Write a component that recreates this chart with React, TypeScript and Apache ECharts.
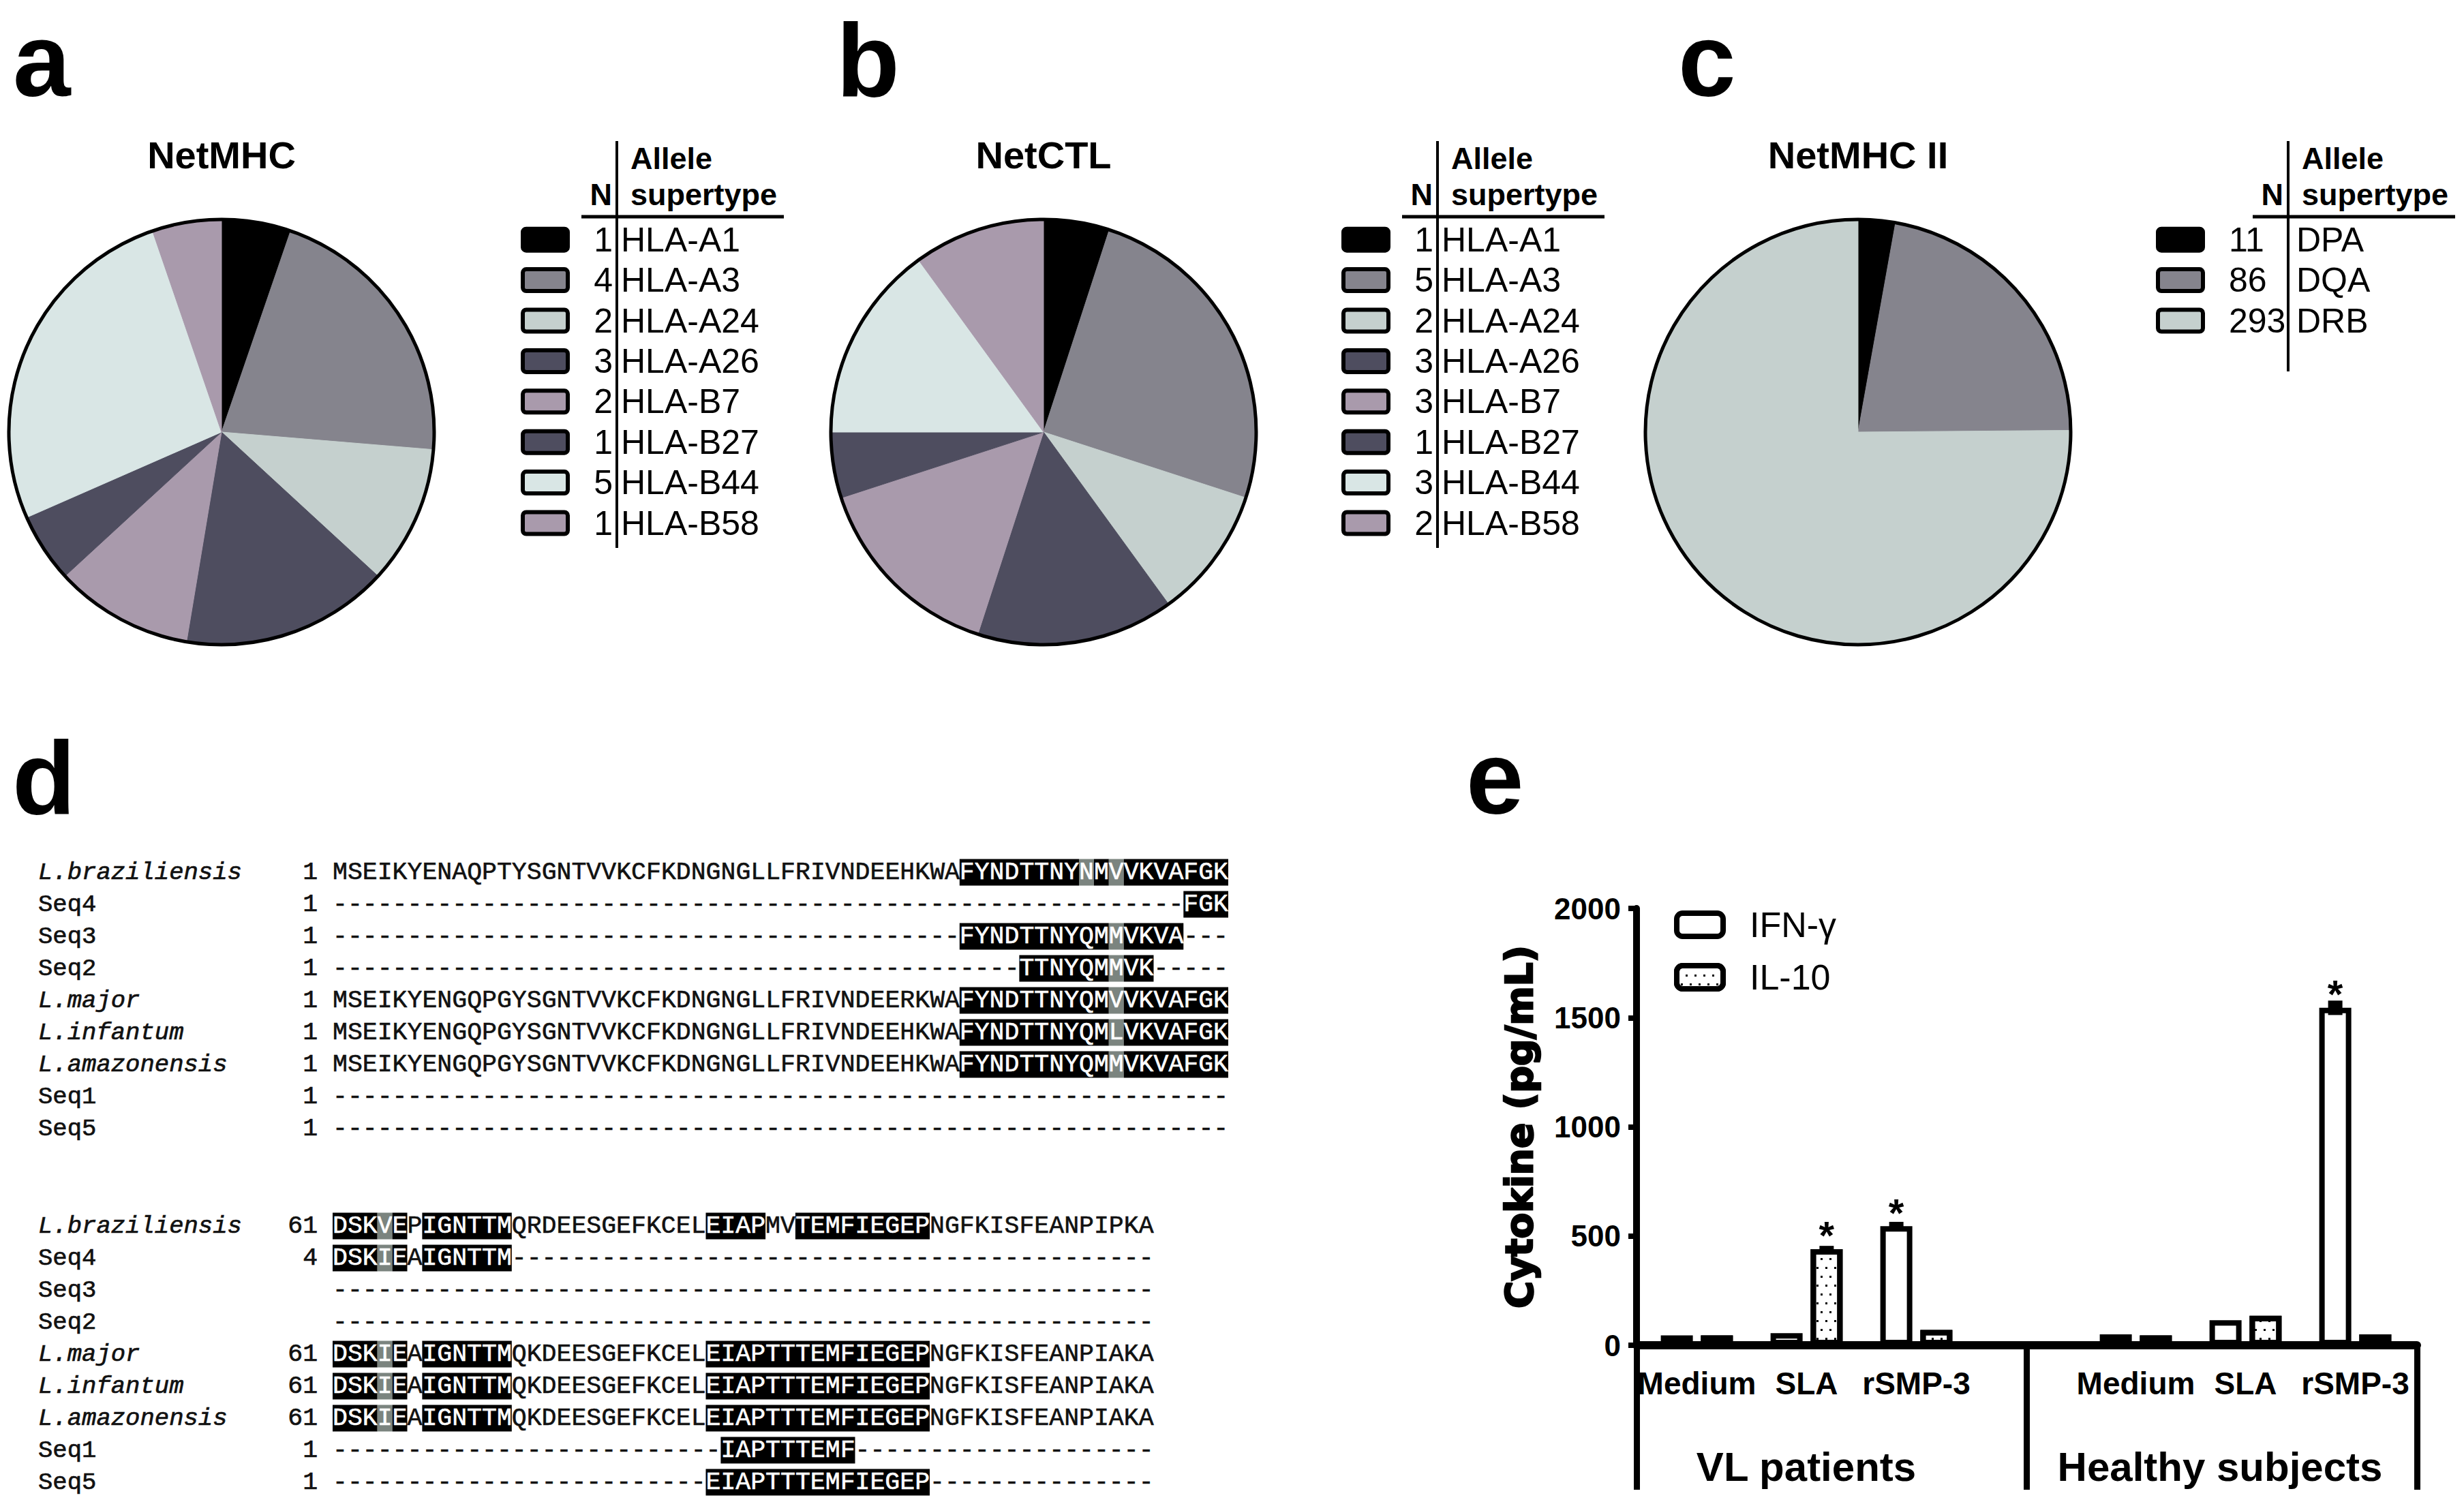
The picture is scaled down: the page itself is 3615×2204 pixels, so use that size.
import React, { useEffect, useRef } from "react";
import * as echarts from "echarts";

const W = 3615;
const H = 2204;
const SANS = "Liberation Sans, Arial, Helvetica, sans-serif";
const MONO = "Liberation Mono, Courier New, monospace";
const INK = "#000";

// ---------- Panels a, b, c : epitope predictions ----------
const SUPERTYPES_I = ["HLA-A1", "HLA-A3", "HLA-A24", "HLA-A26", "HLA-B7", "HLA-B27", "HLA-B44", "HLA-B58"];
const NETMHC_N = [1, 4, 2, 3, 2, 1, 5, 1];
const NETCTL_N = [1, 5, 2, 3, 3, 1, 3, 2];
const SUPERTYPES_II = ["DPA", "DQA", "DRB"];
const NETMHCII_N = [11, 86, 293];
const COLORS_I = ["#000000", "#85848d", "#c5d0ce", "#4e4d5f", "#a99aac", "#4e4d5f", "#d9e6e5", "#a99aac"];
const COLORS_II = ["#000000", "#85848d", "#c5d0ce"];
const PIE_TITLES = ["NetMHC", "NetCTL", "NetMHC II"];
const PANEL_LETTERS = ["a", "b", "c", "d", "e"];

// ---------- Panel d : alignment ----------
const SEQ_NAMES = ["L.braziliensis", "Seq4", "Seq3", "Seq2", "L.major", "L.infantum", "L.amazonensis", "Seq1", "Seq5"];
const BLOCK1_START = ["1", "1", "1", "1", "1", "1", "1", "1", "1"];
const BLOCK1_SEQ = [
  "MSEIKYENAQPTYSGNTVVKCFKDNGNGLLFRIVNDEEHKWAFYNDTTNYNMVVKVAFGK",
  "-".repeat(57) + "FGK",
  "-".repeat(42) + "FYNDTTNYQMMVKVA" + "---",
  "-".repeat(46) + "TTNYQMMVK" + "-----",
  "MSEIKYENGQPGYSGNTVVKCFKDNGNGLLFRIVNDEERKWAFYNDTTNYQMVVKVAFGK",
  "MSEIKYENGQPGYSGNTVVKCFKDNGNGLLFRIVNDEEHKWAFYNDTTNYQMLVKVAFGK",
  "MSEIKYENGQPGYSGNTVVKCFKDNGNGLLFRIVNDEEHKWAFYNDTTNYQMMVKVAFGK",
  "-".repeat(60),
  "-".repeat(60),
];
// b = identical (black), g = similar (grey), . = no shading
const BLOCK1_SHADE = [
  ".".repeat(42) + "bbbbbbbbgbgbbbbbbb",
  ".".repeat(57) + "bbb",
  ".".repeat(42) + "bbbbbbbbbbgbbbb" + "...",
  ".".repeat(46) + "bbbbbbgbb" + ".....",
  ".".repeat(42) + "bbbbbbbbbbgbbbbbbb",
  ".".repeat(42) + "bbbbbbbbbbgbbbbbbb",
  ".".repeat(42) + "bbbbbbbbbbgbbbbbbb",
  ".".repeat(60),
  ".".repeat(60),
];
const BLOCK2_START = ["61", "4", "", "", "61", "61", "61", "1", "1"];
const BLOCK2_SEQ = [
  "DSKVEPIGNTTMQRDEESGEFKCELEIAPMVTEMFIEGEPNGFKISFEANPIPKA",
  "DSKIEAIGNTTM" + "-".repeat(43),
  "-".repeat(55),
  "-".repeat(55),
  "DSKIEAIGNTTMQKDEESGEFKCELEIAPTTTEMFIEGEPNGFKISFEANPIAKA",
  "DSKIEAIGNTTMQKDEESGEFKCELEIAPTTTEMFIEGEPNGFKISFEANPIAKA",
  "DSKIEAIGNTTMQKDEESGEFKCELEIAPTTTEMFIEGEPNGFKISFEANPIAKA",
  "-".repeat(26) + "IAPTTTEMF" + "-".repeat(20),
  "-".repeat(25) + "EIAPTTTEMFIEGEP" + "-".repeat(15),
];
const BLOCK2_SHADE = [
  "bbbgb.bbbbbb" + ".".repeat(13) + "bbbb" + ".." + "bbbbbbbbb" + ".".repeat(15),
  "bbbgb.bbbbbb" + ".".repeat(43),
  ".".repeat(55),
  ".".repeat(55),
  "bbbgb.bbbbbb" + ".".repeat(13) + "b".repeat(15) + ".".repeat(15),
  "bbbgb.bbbbbb" + ".".repeat(13) + "b".repeat(15) + ".".repeat(15),
  "bbbgb.bbbbbb" + ".".repeat(13) + "b".repeat(15) + ".".repeat(15),
  ".".repeat(26) + "b".repeat(9) + ".".repeat(20),
  ".".repeat(25) + "b".repeat(15) + ".".repeat(15),
];

// ---------- Panel e : cytokines ----------
const STIMULI = ["Medium", "SLA", "rSMP-3", "", "Medium", "SLA", "rSMP-3"];
const GROUPS = ["VL patients", "Healthy subjects"];
const IFN_G = [45, 55, 545, null, 50, 115, 1545];
const IL_10 = [45, 440, 70, null, 45, 135, 50];
const IFN_G_ERR = [0, 0, 20, null, 0, 0, 33];
const IL_10_ERR = [0, 15, 0, null, 0, 0, 0];
const IFN_G_SIG = [false, false, true, false, false, false, true];
const IL_10_SIG = [false, true, false, false, false, false, false];
const Y_TITLE = "Cytokine (pg/mL)";

// ---------- layout ----------
const PIE_CX = [325, 1531, 2726];
const PIE_CY = 634;
const PIE_R = 312;
const LEG_VX = [905, 2109, 3357];
const ROW0 = 351.7;
const ROW_STEP = 59.4;
const GREY = "#7b847f";
const BAR_W = 47;
const BAR_GAP = 0.25;

function T(x: number, y: number, text: string, o: any = {}) {
  const align = o.align ?? "left";
  const fill = o.fill ?? INK;
  const style: any = {
    text,
    fill,
    fontSize: o.size ?? 50,
    fontWeight: o.weight ?? "normal",
    fontStyle: o.style ?? "normal",
    fontFamily: o.family ?? SANS,
    textAlign: align,
    align,
    textVerticalAlign: "middle",
    verticalAlign: "middle",
  };
  if (o.lineHeight) style.lineHeight = o.lineHeight;
  if (o.stroke) {
    style.stroke = fill;
    style.lineWidth = o.stroke;
    style.textStroke = fill;
    style.textStrokeWidth = o.stroke;
  }
  return { type: "text", x, y, silent: true, style };
}

function pieLegend(vx: number, names: string[], counts: number[], colors: string[], cfg: any) {
  const els: any[] = [];
  els.push({ type: "line", silent: true, shape: { x1: vx, y1: 207, x2: vx, y2: cfg.bottom }, style: { stroke: INK, lineWidth: 4 } });
  els.push({ type: "line", silent: true, shape: { x1: vx - 52, y1: 318, x2: vx + 245, y2: 318 }, style: { stroke: INK, lineWidth: 5 } });
  els.push(T(vx + 20, 232, "Allele", { size: 45, weight: "bold" }));
  els.push(T(vx + 20, 285, "supertype", { size: 45, weight: "bold" }));
  els.push(T(vx - 7, 285, "N", { size: 45, weight: "bold", align: "right" }));
  names.forEach((nm, i) => {
    const y = ROW0 + ROW_STEP * i;
    els.push({
      type: "rect",
      silent: true,
      shape: { x: vx + cfg.swatchDx, y: y - 16, width: 66, height: 32, r: 5 },
      style: { fill: colors[i], stroke: INK, lineWidth: 6 },
    });
    els.push(T(vx + cfg.numDx, y, String(counts[i]), { size: 50, align: cfg.numAlign }));
    els.push(T(vx + cfg.labelDx, y, nm, { size: 50 }));
  });
  return els;
}

function pieSeries(idx: number, names: string[], counts: number[], colors: string[]) {
  return [
    {
      type: "pie",
      silent: true,
      center: [PIE_CX[idx], PIE_CY],
      radius: PIE_R,
      startAngle: 90,
      clockwise: true,
      label: { show: false },
      labelLine: { show: false },
      data: names.map((n, i) => ({
        name: n,
        value: counts[i],
        itemStyle: { color: colors[i], borderColor: colors[i], borderWidth: 1 },
      })),
    },
    {
      type: "pie",
      silent: true,
      center: [PIE_CX[idx], PIE_CY],
      radius: PIE_R,
      z: 5,
      label: { show: false },
      labelLine: { show: false },
      data: [{ name: "outline" + idx, value: 1, itemStyle: { color: "rgba(0,0,0,0)", borderColor: INK, borderWidth: 5 } }],
    },
  ];
}

function alignmentSeries(gridIdx: number, starts: string[], seqs: string[], shades: string[]) {
  return {
    type: "custom",
    xAxisIndex: gridIdx,
    yAxisIndex: gridIdx,
    clip: false,
    silent: true,
    data: SEQ_NAMES.map((_, r) => [0, r]),
    renderItem: (_params: any, api: any) => {
      const r = api.value(1) as number;
      const [x0, yc] = api.coord([0, r]);
      const [cw, rh] = api.size([1, 1]);
      const fs = cw / 0.6;
      const boxH = rh * 0.83;
      const children: any[] = [];
      const name = SEQ_NAMES[r];
      children.push(
        T(56, yc, name, {
          family: MONO,
          size: 35.6,
          style: name.startsWith("L.") ? "italic" : "normal",
          fill: "#111",
          stroke: 0.7,
        })
      );
      if (starts[r]) children.push(T(x0 - cw, yc, starts[r], { family: MONO, size: fs, align: "right", fill: "#111", stroke: 0.7 }));
      const seq = seqs[r];
      const sh = shades[r];
      let i = 0;
      while (i < seq.length) {
        const m = sh[i];
        let j = i;
        while (j < seq.length && sh[j] === m) j++;
        if (m !== ".") {
          children.push({
            type: "rect",
            shape: { x: x0 + i * cw, y: yc - boxH / 2, width: (j - i) * cw, height: boxH },
            style: { fill: m === "g" ? GREY : "#000" },
          });
        }
        children.push(
          T(x0 + i * cw, yc, seq.slice(i, j), { family: MONO, size: fs, fill: m === "." ? "#111" : "#fff", stroke: 0.6 })
        );
        i = j;
      }
      return { type: "group", children };
    },
  };
}

function buildOption() {
  const graphics: any[] = [];
  // panel letters
  const L = { size: 152, weight: "bold", lineHeight: 110 };
  graphics.push(T(19, 88, PANEL_LETTERS[0], L));
  graphics.push(T(1227, 88, PANEL_LETTERS[1], L));
  graphics.push(T(2462, 88, PANEL_LETTERS[2], L));
  graphics.push(T(18, 1141, PANEL_LETTERS[3], L));
  graphics.push(T(2151, 1141, PANEL_LETTERS[4], L));
  // pie titles
  PIE_TITLES.forEach((t, i) => graphics.push(T(PIE_CX[i], 227, t, { size: 56, weight: "bold", align: "center" })));
  // pie legends
  graphics.push(
    ...pieLegend(LEG_VX[0], SUPERTYPES_I, NETMHC_N, COLORS_I, { bottom: 804, swatchDx: -138, numDx: -6, numAlign: "right", labelDx: 6 })
  );
  graphics.push(
    ...pieLegend(LEG_VX[1], SUPERTYPES_I, NETCTL_N, COLORS_I, { bottom: 804, swatchDx: -138, numDx: -6, numAlign: "right", labelDx: 6 })
  );
  graphics.push(
    ...pieLegend(LEG_VX[2], SUPERTYPES_II, NETMHCII_N, COLORS_II, { bottom: 545, swatchDx: -191, numDx: -87, numAlign: "left", labelDx: 12 })
  );
  // group labels of panel e
  graphics.push(T(2650, 2152, GROUPS[0], { size: 60, weight: "bold", align: "center" }));
  graphics.push(T(3257, 2152, GROUPS[1], { size: 60, weight: "bold", align: "center" }));

  const halfOff = (BAR_W * (1 + BAR_GAP)) / 2;
  const errData: any[] = [];
  IFN_G.forEach((v, i) => {
    if (v != null && (IFN_G_ERR[i] as number) > 0) errData.push([i, v, IFN_G_ERR[i], -1]);
  });
  IL_10.forEach((v, i) => {
    if (v != null && (IL_10_ERR[i] as number) > 0) errData.push([i, v, IL_10_ERR[i], 1]);
  });

  const barData = (vals: (number | null)[], sig: boolean[]) =>
    vals.map((v, i) => (v == null ? "-" : sig[i] ? { value: v, label: { show: true } } : v));

  const starLabel = {
    show: false,
    position: "top",
    formatter: "*",
    fontSize: 58,
    fontWeight: "bold",
    fontFamily: SANS,
    color: INK,
    distance: 0,
    offset: [0, 9],
  };

  const dotDecal = {
    symbol: "rect",
    symbolSize: 1,
    color: "#000",
    backgroundColor: "#fff",
    dashArrayX: [
      [3, 10],
      [0, 6, 3, 4],
    ],
    dashArrayY: [3, 10],
    rotation: 0,
  };

  return {
    animation: false,
    backgroundColor: "#fff",
    textStyle: { fontFamily: SANS },
    grid: [
      { left: 488, top: 1256.5, width: 1314, height: 423 },
      { left: 488, top: 1775.5, width: 1314, height: 423 },
      { left: 2409, top: 1333, width: 1127, height: 641 },
      { left: 2401, top: 1333, width: 1145, height: 641 },
    ],
    xAxis: [
      { gridIndex: 0, type: "value", min: 0, max: 60, show: false },
      { gridIndex: 1, type: "value", min: 0, max: 60, show: false },
      {
        gridIndex: 2,
        type: "category",
        data: STIMULI,
        axisLine: { show: false },
        axisTick: { show: false },
        axisLabel: { interval: 0, fontSize: 46, fontWeight: "bold", color: INK, fontFamily: SANS, margin: 33 },
        splitLine: { show: false },
      },
      {
        gridIndex: 3,
        type: "value",
        min: 0,
        max: 2,
        interval: 1,
        axisLine: { show: true, onZero: false, lineStyle: { color: INK, width: 12 } },
        axisTick: { show: true, length: 212, lineStyle: { color: INK, width: 9 } },
        axisLabel: { show: false },
        splitLine: { show: false },
      },
    ],
    yAxis: [
      { gridIndex: 0, type: "value", min: -0.5, max: 8.5, inverse: true, show: false },
      { gridIndex: 1, type: "value", min: -0.5, max: 8.5, inverse: true, show: false },
      {
        gridIndex: 2,
        type: "value",
        min: 0,
        max: 2000,
        interval: 500,
        offset: 8,
        name: Y_TITLE,
        nameLocation: "middle",
        nameGap: 145,
        nameTextStyle: {
          fontFamily: "DejaVu Sans",
          fontWeight: "bold",
          fontSize: 55,
          color: INK,
          textBorderColor: INK,
          textBorderWidth: 2.5,
        },
        axisLine: { show: true, lineStyle: { color: INK, width: 10 } },
        axisTick: { show: true, length: 12, lineStyle: { color: INK, width: 8 } },
        axisLabel: {
          fontSize: 44,
          fontWeight: "bold",
          color: INK,
          fontFamily: SANS,
          margin: 23,
          formatter: (v: number) => String(v),
        },
        splitLine: { show: false },
      },
      { gridIndex: 3, type: "value", min: 0, max: 1, show: false },
    ],
    legend: [
      {
        data: ["IFN-γ", "IL-10"],
        orient: "vertical",
        left: 2456,
        top: 1331,
        padding: 0,
        itemWidth: 68,
        itemHeight: 34,
        itemGap: 25,
        icon: "roundRect",
        selectedMode: false,
        itemStyle: { borderWidth: 8, borderColor: INK },
        textStyle: { fontSize: 52, color: INK, fontFamily: SANS, padding: [0, 0, 0, 34] },
      },
    ],
    graphic: graphics,
    series: [
      ...pieSeries(0, SUPERTYPES_I, NETMHC_N, COLORS_I),
      ...pieSeries(1, SUPERTYPES_I, NETCTL_N, COLORS_I),
      ...pieSeries(2, SUPERTYPES_II, NETMHCII_N, COLORS_II),
      alignmentSeries(0, BLOCK1_START, BLOCK1_SEQ, BLOCK1_SHADE),
      alignmentSeries(1, BLOCK2_START, BLOCK2_SEQ, BLOCK2_SHADE),
      {
        type: "bar",
        name: "IFN-γ",
        xAxisIndex: 2,
        yAxisIndex: 2,
        silent: true,
        barWidth: BAR_W,
        barGap: BAR_GAP * 100 + "%",
        data: barData(IFN_G, IFN_G_SIG),
        itemStyle: { color: "#fff", borderColor: INK, borderWidth: 8 },
        label: starLabel,
        z: 2,
      },
      {
        type: "bar",
        name: "IL-10",
        xAxisIndex: 2,
        yAxisIndex: 2,
        silent: true,
        barWidth: BAR_W,
        barGap: BAR_GAP * 100 + "%",
        data: barData(IL_10, IL_10_SIG),
        itemStyle: { color: "#fff", borderColor: INK, borderWidth: 8, decal: dotDecal },
        label: starLabel,
        z: 2,
      },
      {
        type: "custom",
        xAxisIndex: 2,
        yAxisIndex: 2,
        silent: true,
        z: 3,
        data: errData,
        renderItem: (_p: any, api: any) => {
          const cat = api.value(0);
          const v = api.value(1);
          const e = api.value(2);
          const side = api.value(3);
          const [cx, top] = api.coord([cat, v + e]);
          const [, bot] = api.coord([cat, v - e]);
          return {
            type: "rect",
            shape: { x: cx + side * halfOff - 10.5, y: top, width: 21, height: Math.max(bot - top, 6) },
            style: { fill: INK },
          };
        },
      },
    ],
  };
}

export default function App() {
  const ref = useRef<HTMLDivElement>(null);
  useEffect(() => {
    document.body.style.margin = "0";
    const chart = echarts.init(ref.current as HTMLDivElement, null, { renderer: "svg", width: W, height: H });
    chart.setOption(buildOption() as any);
    return () => chart.dispose();
  }, []);
  return <div ref={ref} style={{ width: W, height: H, background: "#fff" }} />;
}
